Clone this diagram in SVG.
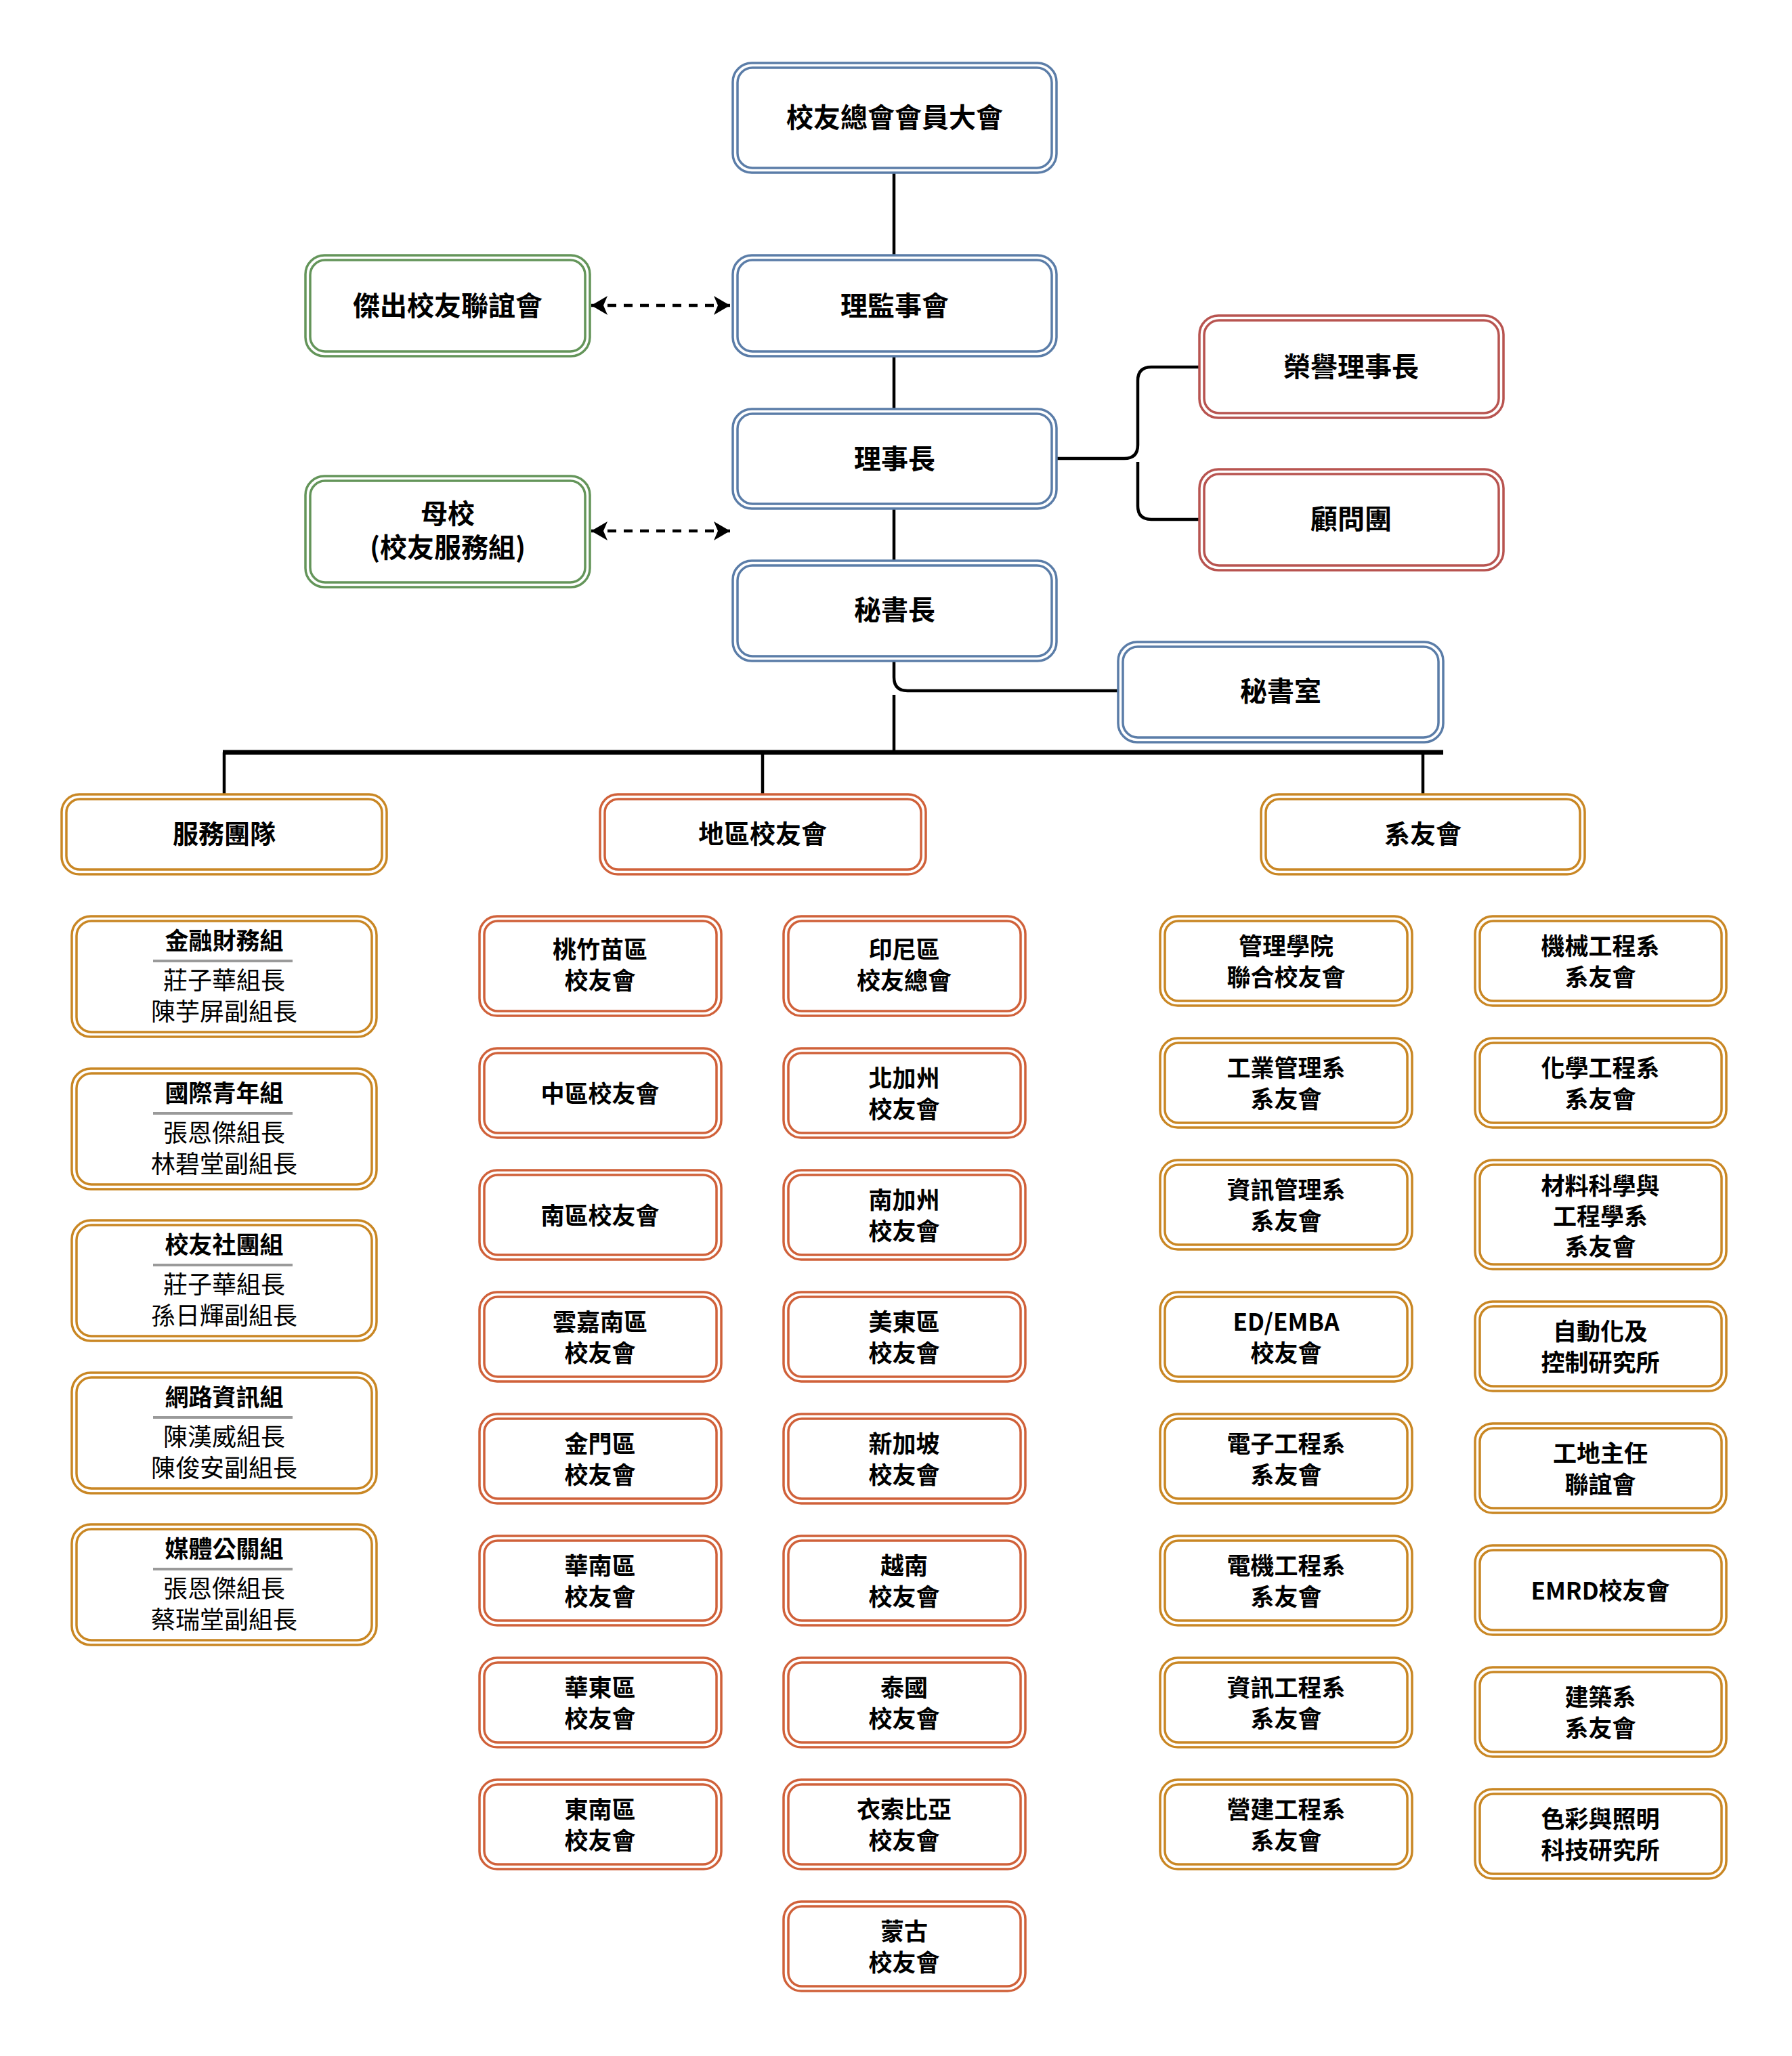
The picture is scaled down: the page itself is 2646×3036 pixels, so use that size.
<svg xmlns="http://www.w3.org/2000/svg" width="2646" height="3036" viewBox="0 0 2646 3036">
<defs>
<style>
text{font-family:"Noto Sans CJK TC","Noto Sans",sans-serif;fill:#000;text-anchor:middle;dominant-baseline:central}
.t{font-size:40px;font-weight:bold}
.m{font-size:38px;font-weight:bold}
.s{font-size:35px;font-weight:bold}
.n{font-size:36px;font-weight:normal}
.o,.i{fill:none;stroke-width:3.5}
.bg{fill:#fff;stroke:none}
.blue{stroke:#5b7da8}
.green{stroke:#64955a}
.red{stroke:#b85450}
.reg{stroke:#d0613a}
.gold{stroke:#c98724}
.c{fill:none;stroke:#000;stroke-width:4.5}
.bus{fill:none;stroke:#000;stroke-width:7}
.d{fill:none;stroke:#000;stroke-width:4.5;stroke-dasharray:13 11}
.sep{stroke:#9a9a9a;stroke-width:4}
</style>
<marker id="ah" markerUnits="userSpaceOnUse" viewBox="0 0 24 28" refX="24" refY="14" markerWidth="24" markerHeight="28" orient="auto-start-reverse">
<path d="M0,0 L24,14 L0,28 L6,14 Z" fill="#000"/>
</marker>
</defs>
<rect width="2646" height="3036" fill="#fff"/>

<g id="connectors">
<path class="c" d="M1320,255 V377"/>
<path class="c" d="M1320,526 V604"/>
<path class="c" d="M1320,751 V828"/>
<path class="c" d="M1560,677 H1660 Q1680,677 1680,657 V562 Q1680,542 1700,542 H1771"/>
<path class="c" d="M1680,682 V747 Q1680,767 1700,767 H1771"/>
<path class="c" d="M1320,976 V1000 Q1320,1020 1340,1020 H1651"/>
<path class="c" d="M1320,1026 V1111"/>
<path class="bus" d="M329,1111 H2131"/>
<path class="c" d="M331,1111 V1173"/>
<path class="c" d="M1126,1111 V1173"/>
<path class="c" d="M2101,1111 V1173"/>
<path class="d" d="M873,451 H1078" marker-start="url(#ah)" marker-end="url(#ah)"/>
<path class="d" d="M873,784 H1078" marker-start="url(#ah)" marker-end="url(#ah)"/>
</g>

<g id="n-assembly"><rect class="bg" x="1082" y="93" width="478" height="162" rx="28"/><rect class="o blue" x="1082" y="93" width="478" height="162" rx="28"/><rect class="i blue" x="1089" y="100" width="464" height="148" rx="22"/><text class="t" x="1321" y="171">校友總會會員大會</text></g>
<g id="n-board"><rect class="bg" x="1082" y="377" width="478" height="149" rx="28"/><rect class="o blue" x="1082" y="377" width="478" height="149" rx="28"/><rect class="i blue" x="1089" y="384" width="464" height="135" rx="22"/><text class="t" x="1321" y="449">理監事會</text></g>
<g id="n-outstanding"><rect class="bg" x="451" y="377" width="420" height="149" rx="28"/><rect class="o green" x="451" y="377" width="420" height="149" rx="28"/><rect class="i green" x="458" y="384" width="406" height="135" rx="22"/><text class="t" x="661" y="449">傑出校友聯誼會</text></g>
<g id="n-chair"><rect class="bg" x="1082" y="604" width="478" height="147" rx="28"/><rect class="o blue" x="1082" y="604" width="478" height="147" rx="28"/><rect class="i blue" x="1089" y="611" width="464" height="133" rx="22"/><text class="t" x="1321" y="675">理事長</text></g>
<g id="n-school"><rect class="bg" x="451" y="703" width="420" height="164" rx="28"/><rect class="o green" x="451" y="703" width="420" height="164" rx="28"/><rect class="i green" x="458" y="710" width="406" height="150" rx="22"/><text class="t" x="661" y="756">母校</text><text class="t" x="661" y="806">(校友服務組)</text></g>
<g id="n-secgen"><rect class="bg" x="1082" y="828" width="478" height="148" rx="28"/><rect class="o blue" x="1082" y="828" width="478" height="148" rx="28"/><rect class="i blue" x="1089" y="835" width="464" height="134" rx="22"/><text class="t" x="1321" y="898">秘書長</text></g>
<g id="n-honor"><rect class="bg" x="1771" y="466" width="449" height="151" rx="28"/><rect class="o red" x="1771" y="466" width="449" height="151" rx="28"/><rect class="i red" x="1778" y="473" width="435" height="137" rx="22"/><text class="t" x="1995" y="539">榮譽理事長</text></g>
<g id="n-advisor"><rect class="bg" x="1771" y="693" width="449" height="149" rx="28"/><rect class="o red" x="1771" y="693" width="449" height="149" rx="28"/><rect class="i red" x="1778" y="700" width="435" height="135" rx="22"/><text class="t" x="1995" y="764">顧問團</text></g>
<g id="n-secoffice"><rect class="bg" x="1651" y="948" width="480" height="148" rx="28"/><rect class="o blue" x="1651" y="948" width="480" height="148" rx="28"/><rect class="i blue" x="1658" y="955" width="466" height="134" rx="22"/><text class="t" x="1891" y="1018">秘書室</text></g>

<g id="n-service"><rect class="bg" x="91" y="1173" width="480" height="118" rx="26"/><rect class="o gold" x="91" y="1173" width="480" height="118" rx="26"/><rect class="i gold" x="98" y="1180" width="466" height="104" rx="20"/><text class="m" x="331" y="1228">服務團隊</text></g>
<g id="n-region"><rect class="bg" x="886" y="1173" width="481" height="118" rx="26"/><rect class="o reg" x="886" y="1173" width="481" height="118" rx="26"/><rect class="i reg" x="893" y="1180" width="467" height="104" rx="20"/><text class="m" x="1126" y="1228">地區校友會</text></g>
<g id="n-dept"><rect class="bg" x="1862" y="1173" width="478" height="118" rx="26"/><rect class="o gold" x="1862" y="1173" width="478" height="118" rx="26"/><rect class="i gold" x="1869" y="1180" width="464" height="104" rx="20"/><text class="m" x="2101" y="1228">系友會</text></g>

<g id="svc-1"><rect class="o gold" x="106" y="1353" width="450" height="178" rx="28"/><rect class="i gold" x="113" y="1360" width="436" height="164" rx="22"/><text class="s" x="331" y="1386">金融財務組</text><line class="sep" x1="226" y1="1419" x2="432" y2="1419"/><text class="n" x="331" y="1445">莊子華組長</text><text class="n" x="331" y="1491">陳芋屏副組長</text></g>
<g id="svc-2"><rect class="o gold" x="106" y="1578" width="450" height="178" rx="28"/><rect class="i gold" x="113" y="1585" width="436" height="164" rx="22"/><text class="s" x="331" y="1611">國際青年組</text><line class="sep" x1="226" y1="1644" x2="432" y2="1644"/><text class="n" x="331" y="1670">張恩傑組長</text><text class="n" x="331" y="1716">林碧堂副組長</text></g>
<g id="svc-3"><rect class="o gold" x="106" y="1802" width="450" height="178" rx="28"/><rect class="i gold" x="113" y="1809" width="436" height="164" rx="22"/><text class="s" x="331" y="1835">校友社團組</text><line class="sep" x1="226" y1="1868" x2="432" y2="1868"/><text class="n" x="331" y="1894">莊子華組長</text><text class="n" x="331" y="1940">孫日輝副組長</text></g>
<g id="svc-4"><rect class="o gold" x="106" y="2027" width="450" height="178" rx="28"/><rect class="i gold" x="113" y="2034" width="436" height="164" rx="22"/><text class="s" x="331" y="2060">網路資訊組</text><line class="sep" x1="226" y1="2093" x2="432" y2="2093"/><text class="n" x="331" y="2119">陳漢威組長</text><text class="n" x="331" y="2165">陳俊安副組長</text></g>
<g id="svc-5"><rect class="o gold" x="106" y="2251" width="450" height="178" rx="28"/><rect class="i gold" x="113" y="2258" width="436" height="164" rx="22"/><text class="s" x="331" y="2284">媒體公關組</text><line class="sep" x1="226" y1="2317" x2="432" y2="2317"/><text class="n" x="331" y="2343">張恩傑組長</text><text class="n" x="331" y="2389">蔡瑞堂副組長</text></g>

<g id="reg-a1"><rect class="o reg" x="708" y="1353" width="357" height="147" rx="26"/><rect class="i reg" x="715" y="1360" width="343" height="133" rx="20"/><text class="s" x="886" y="1399">桃竹苗區</text><text class="s" x="886" y="1445">校友會</text></g>
<g id="reg-a2"><rect class="o reg" x="708" y="1548" width="357" height="132" rx="26"/><rect class="i reg" x="715" y="1555" width="343" height="118" rx="20"/><text class="s" x="886" y="1612">中區校友會</text></g>
<g id="reg-a3"><rect class="o reg" x="708" y="1728" width="357" height="132" rx="26"/><rect class="i reg" x="715" y="1735" width="343" height="118" rx="20"/><text class="s" x="886" y="1792">南區校友會</text></g>
<g id="reg-a4"><rect class="o reg" x="708" y="1908" width="357" height="132" rx="26"/><rect class="i reg" x="715" y="1915" width="343" height="118" rx="20"/><text class="s" x="886" y="1949">雲嘉南區</text><text class="s" x="886" y="1995">校友會</text></g>
<g id="reg-a5"><rect class="o reg" x="708" y="2088" width="357" height="132" rx="26"/><rect class="i reg" x="715" y="2095" width="343" height="118" rx="20"/><text class="s" x="886" y="2129">金門區</text><text class="s" x="886" y="2175">校友會</text></g>
<g id="reg-a6"><rect class="o reg" x="708" y="2268" width="357" height="132" rx="26"/><rect class="i reg" x="715" y="2275" width="343" height="118" rx="20"/><text class="s" x="886" y="2309">華南區</text><text class="s" x="886" y="2355">校友會</text></g>
<g id="reg-a7"><rect class="o reg" x="708" y="2448" width="357" height="132" rx="26"/><rect class="i reg" x="715" y="2455" width="343" height="118" rx="20"/><text class="s" x="886" y="2489">華東區</text><text class="s" x="886" y="2535">校友會</text></g>
<g id="reg-a8"><rect class="o reg" x="708" y="2628" width="357" height="132" rx="26"/><rect class="i reg" x="715" y="2635" width="343" height="118" rx="20"/><text class="s" x="886" y="2669">東南區</text><text class="s" x="886" y="2715">校友會</text></g>

<g id="reg-b1"><rect class="o reg" x="1157" y="1353" width="357" height="147" rx="26"/><rect class="i reg" x="1164" y="1360" width="343" height="133" rx="20"/><text class="s" x="1335" y="1399">印尼區</text><text class="s" x="1335" y="1445">校友總會</text></g>
<g id="reg-b2"><rect class="o reg" x="1157" y="1548" width="357" height="132" rx="26"/><rect class="i reg" x="1164" y="1555" width="343" height="118" rx="20"/><text class="s" x="1335" y="1589">北加州</text><text class="s" x="1335" y="1635">校友會</text></g>
<g id="reg-b3"><rect class="o reg" x="1157" y="1728" width="357" height="132" rx="26"/><rect class="i reg" x="1164" y="1735" width="343" height="118" rx="20"/><text class="s" x="1335" y="1769">南加州</text><text class="s" x="1335" y="1815">校友會</text></g>
<g id="reg-b4"><rect class="o reg" x="1157" y="1908" width="357" height="132" rx="26"/><rect class="i reg" x="1164" y="1915" width="343" height="118" rx="20"/><text class="s" x="1335" y="1949">美東區</text><text class="s" x="1335" y="1995">校友會</text></g>
<g id="reg-b5"><rect class="o reg" x="1157" y="2088" width="357" height="132" rx="26"/><rect class="i reg" x="1164" y="2095" width="343" height="118" rx="20"/><text class="s" x="1335" y="2129">新加坡</text><text class="s" x="1335" y="2175">校友會</text></g>
<g id="reg-b6"><rect class="o reg" x="1157" y="2268" width="357" height="132" rx="26"/><rect class="i reg" x="1164" y="2275" width="343" height="118" rx="20"/><text class="s" x="1335" y="2309">越南</text><text class="s" x="1335" y="2355">校友會</text></g>
<g id="reg-b7"><rect class="o reg" x="1157" y="2448" width="357" height="132" rx="26"/><rect class="i reg" x="1164" y="2455" width="343" height="118" rx="20"/><text class="s" x="1335" y="2489">泰國</text><text class="s" x="1335" y="2535">校友會</text></g>
<g id="reg-b8"><rect class="o reg" x="1157" y="2628" width="357" height="132" rx="26"/><rect class="i reg" x="1164" y="2635" width="343" height="118" rx="20"/><text class="s" x="1335" y="2669">衣索比亞</text><text class="s" x="1335" y="2715">校友會</text></g>
<g id="reg-b9"><rect class="o reg" x="1157" y="2808" width="357" height="132" rx="26"/><rect class="i reg" x="1164" y="2815" width="343" height="118" rx="20"/><text class="s" x="1335" y="2849">蒙古</text><text class="s" x="1335" y="2895">校友會</text></g>

<g id="dep-a1"><rect class="o gold" x="1713" y="1353" width="372" height="132" rx="26"/><rect class="i gold" x="1720" y="1360" width="358" height="118" rx="20"/><text class="s" x="1899" y="1394">管理學院</text><text class="s" x="1899" y="1440">聯合校友會</text></g>
<g id="dep-a2"><rect class="o gold" x="1713" y="1533" width="372" height="132" rx="26"/><rect class="i gold" x="1720" y="1540" width="358" height="118" rx="20"/><text class="s" x="1899" y="1574">工業管理系</text><text class="s" x="1899" y="1620">系友會</text></g>
<g id="dep-a3"><rect class="o gold" x="1713" y="1713" width="372" height="132" rx="26"/><rect class="i gold" x="1720" y="1720" width="358" height="118" rx="20"/><text class="s" x="1899" y="1754">資訊管理系</text><text class="s" x="1899" y="1800">系友會</text></g>
<g id="dep-a4"><rect class="o gold" x="1713" y="1908" width="372" height="132" rx="26"/><rect class="i gold" x="1720" y="1915" width="358" height="118" rx="20"/><text class="s" x="1899" y="1949">ED/EMBA</text><text class="s" x="1899" y="1995">校友會</text></g>
<g id="dep-a5"><rect class="o gold" x="1713" y="2088" width="372" height="132" rx="26"/><rect class="i gold" x="1720" y="2095" width="358" height="118" rx="20"/><text class="s" x="1899" y="2129">電子工程系</text><text class="s" x="1899" y="2175">系友會</text></g>
<g id="dep-a6"><rect class="o gold" x="1713" y="2268" width="372" height="132" rx="26"/><rect class="i gold" x="1720" y="2275" width="358" height="118" rx="20"/><text class="s" x="1899" y="2309">電機工程系</text><text class="s" x="1899" y="2355">系友會</text></g>
<g id="dep-a7"><rect class="o gold" x="1713" y="2448" width="372" height="132" rx="26"/><rect class="i gold" x="1720" y="2455" width="358" height="118" rx="20"/><text class="s" x="1899" y="2489">資訊工程系</text><text class="s" x="1899" y="2535">系友會</text></g>
<g id="dep-a8"><rect class="o gold" x="1713" y="2628" width="372" height="132" rx="26"/><rect class="i gold" x="1720" y="2635" width="358" height="118" rx="20"/><text class="s" x="1899" y="2669">營建工程系</text><text class="s" x="1899" y="2715">系友會</text></g>

<g id="dep-b1"><rect class="o gold" x="2178" y="1353" width="371" height="132" rx="26"/><rect class="i gold" x="2185" y="1360" width="357" height="118" rx="20"/><text class="s" x="2363" y="1394">機械工程系</text><text class="s" x="2363" y="1440">系友會</text></g>
<g id="dep-b2"><rect class="o gold" x="2178" y="1533" width="371" height="132" rx="26"/><rect class="i gold" x="2185" y="1540" width="357" height="118" rx="20"/><text class="s" x="2363" y="1574">化學工程系</text><text class="s" x="2363" y="1620">系友會</text></g>
<g id="dep-b3"><rect class="o gold" x="2178" y="1713" width="371" height="161" rx="26"/><rect class="i gold" x="2185" y="1720" width="357" height="147" rx="20"/><text class="s" x="2363" y="1748">材料科學與</text><text class="s" x="2363" y="1793">工程學系</text><text class="s" x="2363" y="1838">系友會</text></g>
<g id="dep-b4"><rect class="o gold" x="2178" y="1922" width="371" height="132" rx="26"/><rect class="i gold" x="2185" y="1929" width="357" height="118" rx="20"/><text class="s" x="2363" y="1963">自動化及</text><text class="s" x="2363" y="2009">控制研究所</text></g>
<g id="dep-b5"><rect class="o gold" x="2178" y="2102" width="371" height="132" rx="26"/><rect class="i gold" x="2185" y="2109" width="357" height="118" rx="20"/><text class="s" x="2363" y="2143">工地主任</text><text class="s" x="2363" y="2189">聯誼會</text></g>
<g id="dep-b6"><rect class="o gold" x="2178" y="2282" width="371" height="132" rx="26"/><rect class="i gold" x="2185" y="2289" width="357" height="118" rx="20"/><text class="s" x="2363" y="2346">EMRD校友會</text></g>
<g id="dep-b7"><rect class="o gold" x="2178" y="2462" width="371" height="132" rx="26"/><rect class="i gold" x="2185" y="2469" width="357" height="118" rx="20"/><text class="s" x="2363" y="2503">建築系</text><text class="s" x="2363" y="2549">系友會</text></g>
<g id="dep-b8"><rect class="o gold" x="2178" y="2642" width="371" height="132" rx="26"/><rect class="i gold" x="2185" y="2649" width="357" height="118" rx="20"/><text class="s" x="2363" y="2683">色彩與照明</text><text class="s" x="2363" y="2729">科技研究所</text></g>
</svg>
